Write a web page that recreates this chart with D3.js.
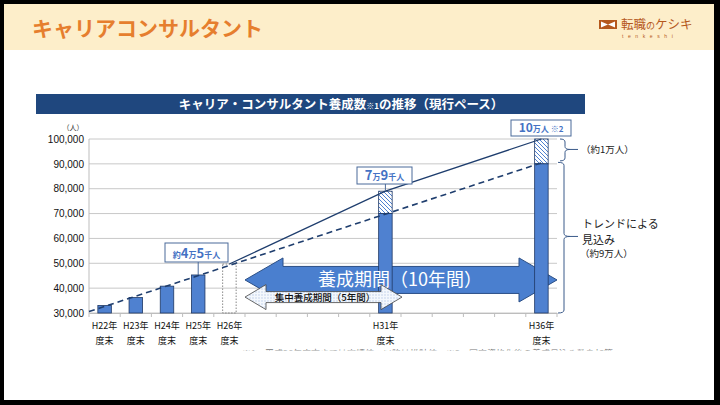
<!DOCTYPE html>
<html><head><meta charset="utf-8">
<script src="https://cdn.jsdelivr.net/npm/d3@7/dist/d3.min.js"></script>
<style>
html,body{margin:0;padding:0;background:#000;}
svg{display:block;}
text{font-family:"Noto Sans CJK JP","Noto Sans",sans-serif;}
.num{font-family:"Liberation Sans",Arial,sans-serif;}
</style></head>
<body>
<svg id="c" width="720" height="405"></svg>
<script>
// ---------- data ----------
const pageTitle = "キャリアコンサルタント";
const chartTitle = ["キャリア・コンサルタント養成数", "※1", "の推移（現行ペース）"];
const categories = ["H22","H23","H24","H25","H26","H27","H28","H29","H30","H31","H32","H33","H34","H35","H36"];
const labeledCats = ["H22","H23","H24","H25","H26","H31","H36"];
const actualCats = ["H22","H23","H24","H25"];
const actualValues = [33000, 36200, 40800, 45300];
const estimateCat = "H26";
const estimateValue = 49700;
const projCats = ["H31","H36"];
const projTrendValues = [70000, 90000];
const projTotalValues = [79000, 100000];
const trendStartValue = 30600;          // at the left edge of the axis
const trendEnd = ["H36", 90400];
const targetCats = ["H26","H31","H36"];
const targetValues = [49700, 79000, 100000];
const yTicks = [30000,40000,50000,60000,70000,80000,90000,100000];
const bigPeriod = ["H27","H36"];   // 養成期間（10年間）
const smallPeriod = ["H27","H31"]; // 集中養成期間（5年間）

// ---------- layout ----------
const svg = d3.select("#c");
const plot = {l: 89, r: 557, t: 139, b: 313};

// page frame
svg.append("rect").attr("x",4).attr("y",4).attr("width",710).attr("height",396).attr("fill","#fff");
svg.append("rect").attr("x",4).attr("y",4).attr("width",710).attr("height",46).attr("fill","#fdeeca");
svg.append("text").attr("x",32).attr("y",36).attr("font-size",21).attr("font-weight",700)
  .attr("fill","#e67e2e").text(pageTitle);

// logo
const logo = svg.append("g");
logo.append("rect").attr("x",599).attr("y",20).attr("width",18).attr("height",9).attr("fill","#b5581c");
logo.append("path").attr("d","M601,21.5 L608,24.5 L601,27.5 Z M615,21.5 L608,24.5 L615,27.5 Z").attr("fill","#fff");
logo.append("text").attr("x",621).attr("y",28.5).attr("font-size",12.5).attr("fill","#b5581c")
  .html('転職<tspan font-size="9">の</tspan>ケシキ');
logo.append("text").attr("x",622).attr("y",38).attr("font-size",5).attr("fill","#b5581c")
  .attr("letter-spacing","4.6").attr("class","num").text("tenkeshi");

// header bar
svg.append("rect").attr("x",36).attr("y",94).attr("width",549).attr("height",20).attr("fill","#1f477e");
svg.append("text").attr("x",341).attr("y",109).attr("text-anchor","middle").attr("fill","#fff")
  .attr("font-size",12.5).attr("font-weight",700)
  .html(`${chartTitle[0]}<tspan font-size="8">${chartTitle[1]}</tspan>${chartTitle[2]}`);

// scales
const xb = d3.scaleBand().domain(categories).range([plot.l, plot.r]);
const cx = c => xb(c) + xb.bandwidth()/2;
const barW = 13.5;
const y = d3.scaleLinear().domain([30000,100000]).range([plot.b, plot.t]);

// patterns
const defs = svg.append("defs");
const hp = defs.append("pattern").attr("id","hatch").attr("patternUnits","userSpaceOnUse").attr("width",4).attr("height",4);
hp.append("rect").attr("width",4).attr("height",4).attr("fill","#fff");
hp.append("path").attr("d","M-1,3 l2,2 M0,0 l4,4 M3,-1 l2,2").attr("stroke","#4f81d0").attr("stroke-width",1);
const dp = defs.append("pattern").attr("id","dots").attr("patternUnits","userSpaceOnUse").attr("width",3).attr("height",3);
dp.append("rect").attr("width",3).attr("height",3).attr("fill","#f4f8fd");
dp.append("circle").attr("cx",1).attr("cy",1).attr("r",0.7).attr("fill","#b4c8e6");
const clip = defs.append("clipPath").attr("id","fn");
clip.append("rect").attr("x",0).attr("y",346).attr("width",720).attr("height",4.5);

// gridlines
svg.append("g").selectAll("line").data(yTicks).join("line")
  .attr("x1",plot.l).attr("x2",plot.r).attr("y1",d=>y(d)).attr("y2",d=>y(d))
  .attr("stroke","#c8c8c8").attr("stroke-width",1);
svg.append("line").attr("x1",plot.l).attr("x2",plot.l).attr("y1",plot.t).attr("y2",plot.b)
  .attr("stroke","#bdbdbd");

// y axis
const yAxis = d3.axisLeft(y).tickValues(yTicks).tickSize(0).tickPadding(5)
  .tickFormat(d3.format(","));
const ya = svg.append("g").attr("transform",`translate(${plot.l},0)`).call(yAxis);
ya.select(".domain").remove();
ya.selectAll("text").attr("class","num").attr("font-size",10).attr("fill","#111");
svg.append("text").attr("x",73).attr("y",130).attr("text-anchor","middle").attr("font-size",7)
  .attr("fill","#333").text("（人）");

// x axis
const xAxis = d3.axisBottom(xb).tickSize(0).tickFormat("");
const xa = svg.append("g").attr("transform",`translate(0,${plot.b})`).call(xAxis);
xa.select(".domain").attr("stroke","#bdbdbd");
svg.append("g").selectAll("line").data(categories.concat(["__end"])).join("line")
  .attr("x1",d=> d==="__end"?plot.r:xb(d)).attr("x2",d=> d==="__end"?plot.r:xb(d))
  .attr("y1",plot.b).attr("y2",plot.b+4).attr("stroke","#bdbdbd");
const xl = svg.append("g").selectAll("g").data(labeledCats).join("g");
xl.append("text").attr("x",d=>cx(d)).attr("y",329).attr("text-anchor","middle")
  .attr("font-size",9).attr("fill","#111").text(d=>d+"年");
xl.append("text").attr("x",d=>cx(d)).attr("y",343.5).attr("text-anchor","middle")
  .attr("font-size",9).attr("fill","#111").text("度末");

// footnote (cut off in original)
svg.append("text").attr("x",242).attr("y",357).attr("font-size",9).attr("fill","#777")
  .attr("clip-path","url(#fn)")
  .text("※1　平成26年度末までは実績値、以降は推計値。※2　国家資格化後の養成見込み数を加算");

// arrows
function dblArrow(x1,x2,yc,hh,sh,hl){
  return `M${x1},${yc} L${x1+hl},${yc-hh} L${x1+hl},${yc-sh} L${x2-hl},${yc-sh} L${x2-hl},${yc-hh} L${x2},${yc} `+
         `L${x2-hl},${yc+hh} L${x2-hl},${yc+sh} L${x1+hl},${yc+sh} L${x1+hl},${yc+hh} Z`;
}
const bigY = y(43300);
svg.append("path").attr("d",dblArrow(xb(bigPeriod[0]), xb(bigPeriod[1])+xb.bandwidth(), bigY, 22, 13.5, 38))
  .attr("fill","#4a7fcf").attr("stroke","#2b4f86").attr("stroke-width",1);

// estimate (dotted box)
svg.append("rect").attr("x",cx(estimateCat)-barW/2).attr("y",y(estimateValue))
  .attr("width",barW).attr("height",y(30000)-y(estimateValue))
  .attr("fill","none").attr("stroke","#888").attr("stroke-width",1).attr("stroke-dasharray","1.5,1.5");

// actual bars
svg.append("g").selectAll("rect").data(actualCats).join("rect")
  .attr("x",d=>cx(d)-barW/2).attr("width",barW)
  .attr("y",(d,i)=>y(actualValues[i])).attr("height",(d,i)=>y(30000)-y(actualValues[i]))
  .attr("fill","#4f81d0").attr("stroke","#1f3864").attr("stroke-width",0.8);

// projected bars
svg.append("g").selectAll("rect").data(projCats).join("rect")
  .attr("x",d=>cx(d)-barW/2).attr("width",barW)
  .attr("y",(d,i)=>y(projTotalValues[i])).attr("height",(d,i)=>y(projTrendValues[i])-y(projTotalValues[i]))
  .attr("fill","url(#hatch)").attr("stroke","#1f3864").attr("stroke-width",0.8);
svg.append("g").selectAll("rect").data(projCats).join("rect")
  .attr("x",d=>cx(d)-barW/2).attr("width",barW)
  .attr("y",(d,i)=>y(projTrendValues[i])).attr("height",(d,i)=>y(30000)-y(projTrendValues[i]))
  .attr("fill","#4f81d0").attr("stroke","#1f3864").attr("stroke-width",0.8);

// big arrow label
svg.append("text").attr("x",400).attr("y",bigY+6.5).attr("text-anchor","middle")
  .attr("font-size",18).attr("fill","#fff").text("養成期間（10年間）");

// small arrow
const smY = y(36400);
svg.append("path").attr("d",dblArrow(xb(smallPeriod[0]), xb(smallPeriod[1])+xb.bandwidth()+1, smY, 12.5, 5.5, 21))
  .attr("fill","url(#dots)").attr("stroke","#444").attr("stroke-width",0.8);
svg.append("text").attr("x",325).attr("y",smY+3.5).attr("text-anchor","middle")
  .attr("font-size",9.5).attr("font-weight",500).attr("fill","#111").text("集中養成期間（5年間）");

// trend dashed line
const trendPts = [[plot.l, trendStartValue],[cx(trendEnd[0]), trendEnd[1]]];
svg.append("path").attr("d",d3.line().x(d=>d[0]).y(d=>y(d[1]))(trendPts))
  .attr("fill","none").attr("stroke","#1f3e6e").attr("stroke-width",1.6).attr("stroke-dasharray","6,4");
// target solid line
svg.append("path").attr("d",d3.line().x((d,i)=>cx(d)).y((d,i)=>y(targetValues[i]))(targetCats))
  .attr("fill","none").attr("stroke","#1f3e6e").attr("stroke-width",1.3);

// callouts
function callout(x0,x1,y0,y1,html,lineTo){
  svg.append("rect").attr("x",x0).attr("y",y0).attr("width",x1-x0).attr("height",y1-y0)
    .attr("fill","#fff").attr("stroke","#4a6a9a").attr("stroke-width",1);
  if(lineTo) svg.append("line").attr("x1",lineTo[0]).attr("x2",lineTo[0]).attr("y1",y1).attr("y2",lineTo[1])
    .attr("stroke","#4a6a9a").attr("stroke-width",1);
  svg.append("text").attr("x",(x0+x1)/2).attr("y",y1-4).attr("text-anchor","middle")
    .attr("fill","#4472c4").attr("font-weight",700).html(html);
}
callout(165,228,243,262,'<tspan font-size="8">約</tspan><tspan font-size="13">4</tspan><tspan font-size="8">万</tspan><tspan font-size="13">5</tspan><tspan font-size="8">千人</tspan>',[cx("H25"), y(actualValues[3])]);
callout(357,412,167,184,'<tspan font-size="13">7</tspan><tspan font-size="8">万</tspan><tspan font-size="13">9</tspan><tspan font-size="8">千人</tspan>',[cx("H31"), y(projTotalValues[0])]);
callout(511,571,120,136,'<tspan font-size="12">10</tspan><tspan font-size="8">万人 ※2</tspan>',null);

// braces
function brace(x0,y1,y2,ym,w){
  const xm = x0+w, tip = x0+2*w, r=3;
  return `M${x0},${y1} Q${xm},${y1} ${xm},${y1+r} L${xm},${ym-r} Q${xm},${ym} ${tip},${ym} `+
         `Q${xm},${ym} ${xm},${ym+r} L${xm},${y2-r} Q${xm},${y2} ${x0},${y2}`;
}
const bc = "#3a5a8a";
svg.append("path").attr("d",brace(560,y(100000),y(91200),y(95800),5)).attr("fill","none").attr("stroke",bc).attr("stroke-width",1);
svg.append("line").attr("x1",570).attr("x2",578).attr("y1",y(95800)).attr("y2",y(95800)).attr("stroke",bc);
svg.append("path").attr("d",brace(558,y(90600),y(30000),y(60800),6)).attr("fill","none").attr("stroke",bc).attr("stroke-width",1);
svg.append("line").attr("x1",570).attr("x2",578).attr("y1",y(60800)).attr("y2",y(60800)).attr("stroke",bc);
svg.append("text").attr("x",581).attr("y",153).attr("font-size",9.5).attr("fill","#222").text("（約1万人）");
svg.append("text").attr("x",582).attr("y",228).attr("font-size",11).attr("fill","#222").text("トレンドによる");
svg.append("text").attr("x",582).attr("y",244).attr("font-size",11).attr("fill","#222").text("見込み");
svg.append("text").attr("x",580).attr("y",257).attr("font-size",9.5).attr("fill","#222").text("（約9万人）");
</script>
</body></html>
